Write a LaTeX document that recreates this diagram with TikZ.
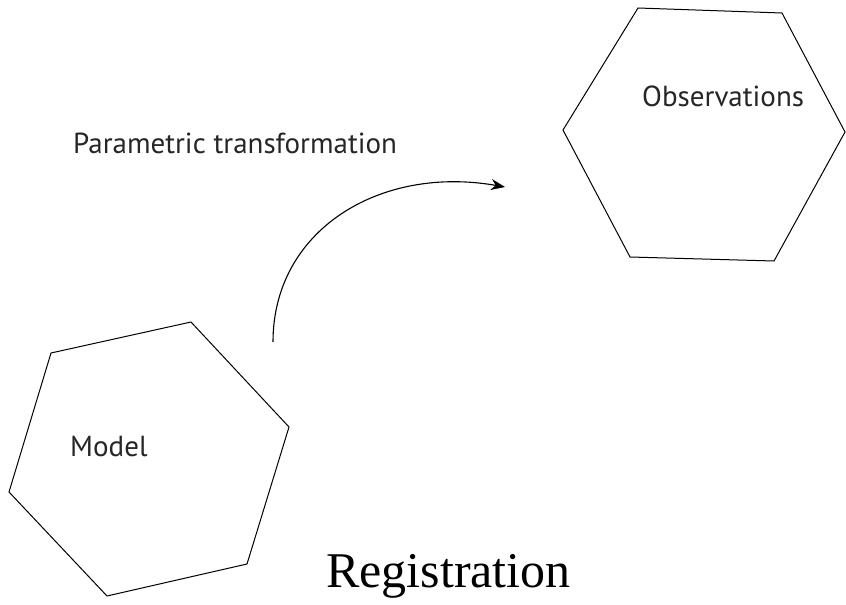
\documentclass[tikz,border=0pt]{standalone}
\usepackage{fontspec}
\setmainfont{Liberation Serif}
\newfontfamily\labelfont{PT Sans}
\usetikzlibrary{arrows.meta}
\begin{document}
\begin{tikzpicture}[x=1bp,y=-1bp,
  hexa/.style={draw=black,line width=1bp,line join=miter},
  lbl/.style={inner sep=0pt,anchor=base west,font=\labelfont\fontsize{29bp}{33bp}\selectfont,text=black!85},
  title/.style={inner sep=0pt,anchor=base west,font=\fontsize{50bp}{56bp}\selectfont},
  conn/.style={draw=black,line width=1.1bp,-{Stealth[length=14bp,width=11bp]}}]
\useasboundingbox (0,0) rectangle (846,605);
% Model hexagon
\coordinate (m1) at (51,353);
\coordinate (m2) at (191,322);
\coordinate (m3) at (289,427);
\coordinate (m4) at (247,564);
\coordinate (m5) at (107,596);
\coordinate (m6) at (9,492);
\draw[hexa] (m1) -- (m2) -- (m3) -- (m4) -- (m5) -- (m6) -- cycle;
% Observations hexagon
\coordinate (o1) at (638,8);
\coordinate (o2) at (782,13);
\coordinate (o3) at (845,132);
\coordinate (o4) at (774,261);
\coordinate (o5) at (630,257);
\coordinate (o6) at (563,130);
\draw[hexa] (o1) -- (o2) -- (o3) -- (o4) -- (o5) -- (o6) -- cycle;
% labels
\node[lbl] (model) at (70,456) {Model};
\node[lbl] (obs) at (642,107) {Observations};
\node[lbl] (param) at (73,154) {Parametric transformation};
\node[title] (reg) at (326,587) {Registration};
% arrow
\coordinate (as) at (273,342);
\coordinate (ae) at (505,187);
\draw[conn] (as) .. controls (273,230) and (380,165) .. (ae);
\end{tikzpicture}
\end{document}
